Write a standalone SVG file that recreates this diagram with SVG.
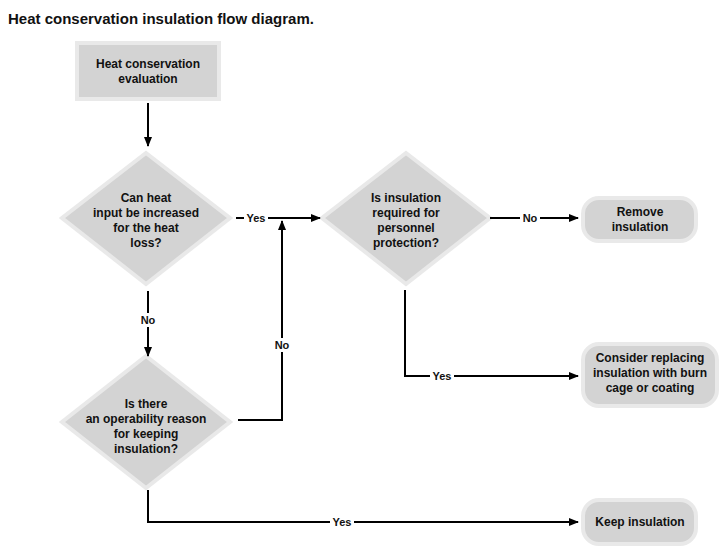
<svg xmlns="http://www.w3.org/2000/svg" width="720" height="549" viewBox="0 0 720 549">
<style>
.s{fill:#d3d3d3;stroke:#e9e9e9;stroke-width:4}
text{font-family:"Liberation Sans",Arial,sans-serif;font-weight:bold;font-size:12px;fill:#111;text-anchor:middle}
.l{font-size:11px}
.c{fill:none;stroke:#000;stroke-width:2}
</style>
<defs><marker id="a" markerWidth="10" markerHeight="8" refX="9" refY="4" orient="auto" markerUnits="userSpaceOnUse"><path d="M0,0L10,4L0,8z" fill="#000"/></marker></defs>
<rect width="720" height="549" fill="#fff"/>
<text x="8" y="24" style="text-anchor:start;font-size:15px">Heat conservation insulation flow diagram.</text>
<g id="n1"><rect class="s" x="77" y="43" width="142" height="56"/><text x="148" y="68">Heat conservation</text><text x="148" y="83">evaluation</text></g>
<g id="d1"><polygon class="s" points="146,153 230,218 146,284 62,218"/><text x="146" y="202">Can heat</text><text x="146" y="217">input be increased</text><text x="146" y="232">for the heat</text><text x="146" y="247">loss?</text></g>
<g id="d2"><polygon class="s" points="146,356 230,422 146,488 62,422"/><text x="146" y="408">Is there</text><text x="146" y="423">an operability reason</text><text x="146" y="438">for keeping</text><text x="146" y="453">insulation?</text></g>
<g id="d3"><polygon class="s" points="406,153 490,218 406,284 322,218"/><text x="406" y="202">Is insulation</text><text x="406" y="217">required for</text><text x="406" y="232">personnel</text><text x="406" y="247">protection?</text></g>
<g id="n2"><rect class="s" x="583" y="198" width="113" height="43" rx="16"/><text x="640" y="216">Remove</text><text x="640" y="231">insulation</text></g>
<g id="n3"><rect class="s" x="583" y="344" width="134" height="62" rx="16"/><text x="650" y="362">Consider replacing</text><text x="650" y="377">insulation with burn</text><text x="650" y="392">cage or coating</text></g>
<g id="n4"><rect class="s" x="583" y="500" width="113" height="44" rx="16"/><text x="640" y="526">Keep insulation</text></g>
<g id="connectors">
<path class="c" d="M148,103V146" marker-end="url(#a)"/>
<path class="c" d="M236,218H320" marker-end="url(#a)"/>
<path class="c" d="M238,420H282V221" marker-end="url(#a)"/>
<path class="c" d="M148,291V356" marker-end="url(#a)"/>
<path class="c" d="M490,218H578" marker-end="url(#a)"/>
<path class="c" d="M405,290V376H578" marker-end="url(#a)"/>
<path class="c" d="M148,490V522H578" marker-end="url(#a)"/>
<rect x="244" y="211" width="24" height="14" fill="#fff"/><text class="l" x="256" y="222">Yes</text>
<rect x="271" y="338" width="22" height="14" fill="#fff"/><text class="l" x="282" y="349">No</text>
<rect x="138" y="313" width="20" height="14" fill="#fff"/><text class="l" x="148" y="324">No</text>
<rect x="520" y="211" width="20" height="14" fill="#fff"/><text class="l" x="530" y="222">No</text>
<rect x="430" y="369" width="24" height="14" fill="#fff"/><text class="l" x="442" y="380">Yes</text>
<rect x="330" y="515" width="24" height="14" fill="#fff"/><text class="l" x="342" y="526">Yes</text>
</g>
</svg>
